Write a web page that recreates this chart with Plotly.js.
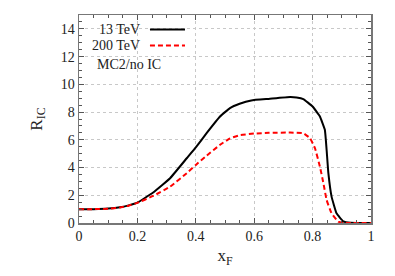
<!DOCTYPE html>
<html><head><meta charset="utf-8">
<script src="https://cdn.plot.ly/plotly-3.0.1.min.js"></script>
<style>body{margin:0;padding:0;background:#fff}#c{width:395px;height:276px}</style>
</head><body><div id="c"></div>
<script>
const x13 = [0, 0.05, 0.1, 0.14, 0.17, 0.2, 0.254, 0.312, 0.369, 0.4, 0.437, 0.483, 0.517, 0.55, 0.59, 0.65, 0.723, 0.745, 0.768, 0.8, 0.825, 0.842, 0.848, 0.854, 0.865, 0.882, 0.905, 0.93, 1.0];
const y13 = [1.0, 1.0, 1.04, 1.13, 1.27, 1.47, 2.2, 3.23, 4.67, 5.45, 6.48, 7.68, 8.29, 8.6, 8.84, 8.95, 9.08, 9.05, 8.94, 8.4, 7.68, 6.72, 5.27, 3.59, 1.9, 0.7, 0.12, 0.02, 0];
const x200 = [0, 0.05, 0.1, 0.14, 0.17, 0.2, 0.254, 0.312, 0.369, 0.4, 0.437, 0.483, 0.517, 0.55, 0.6, 0.65, 0.723, 0.768, 0.791, 0.808, 0.825, 0.837, 0.848, 0.865, 0.888, 0.905, 1.0];
const y200 = [1.0, 1.0, 1.03, 1.12, 1.25, 1.45, 1.95, 2.62, 3.59, 4.19, 4.85, 5.64, 6.1, 6.33, 6.45, 6.5, 6.52, 6.48, 6.12, 5.4, 4.07, 2.87, 1.66, 0.7, 0.1, 0.0, 0];
const names = ["13 TeV", "200 TeV"];
const note = "MC2/no IC";

const F = "'Liberation Serif', 'Times New Roman', serif";
const axBase = {
  showline: true, linecolor: '#777', linewidth: 1.5, mirror: 'allticks',
  ticks: 'inside', ticklen: 5, tickcolor: '#555', tickwidth: 1,
  showgrid: true, gridcolor: '#c8c8c8', griddash: 'dot', gridwidth: 1,
  zeroline: false, tickfont: {family: F, size: 14, color: '#222'}
};
const layout = {
  width: 395, height: 276,
  margin: {l: 79, r: 24, t: 15, b: 53},
  paper_bgcolor: '#fff', plot_bgcolor: '#fff',
  showlegend: false,
  xaxis: Object.assign({}, axBase, {range: [0, 1], dtick: 0.2, tick0: 0,
    minor: {dtick: 0.05, ticks: 'inside', ticklen: 3, tickcolor: '#555', showgrid: false},
    title: {text: 'x<sub>F</sub>', font: {family: F, size: 17, color: '#222'}, standoff: 6}}),
  yaxis: Object.assign({}, axBase, {range: [0, 15], dtick: 2, tick0: 0,
    minor: {dtick: 0.5, ticks: 'inside', ticklen: 3, tickcolor: '#555', showgrid: false},
    title: {text: 'R<sub>IC</sub>', font: {family: F, size: 17, color: '#222'}, standoff: 14}}),
  annotations: [
    {xref: 'paper', yref: 'paper', x: 0.216, y: 0.93, xanchor: 'right', yanchor: 'middle', text: names[0], showarrow: false, font: {family: F, size: 14, color: '#222'}},
    {xref: 'paper', yref: 'paper', x: 0.216, y: 0.853, xanchor: 'right', yanchor: 'middle', text: names[1], showarrow: false, font: {family: F, size: 14, color: '#222'}},
    {xref: 'paper', yref: 'paper', x: 0.055, y: 0.762, xanchor: 'left', yanchor: 'middle', text: note, showarrow: false, font: {family: F, size: 14, color: '#222'}}
  ],
  shapes: [
    {type: 'line', xref: 'paper', yref: 'paper', x0: 0.243, x1: 0.363, y0: 0.93, y1: 0.93, line: {color: '#000', width: 2}},
    {type: 'line', xref: 'paper', yref: 'paper', x0: 0.243, x1: 0.363, y0: 0.853, y1: 0.853, line: {color: '#ff0000', width: 2, dash: '5px,3px'}}
  ]
};
const data = [
  {x: x13, y: y13, name: names[0], mode: 'lines', line: {color: '#000', width: 2, shape: 'spline', smoothing: 0.3}},
  {x: x200, y: y200, name: names[1], mode: 'lines', line: {color: '#ff0000', width: 2, dash: '5px,3px', shape: 'spline', smoothing: 0.3}}
];
Plotly.newPlot('c', data, layout, {displayModeBar: false, staticPlot: true});
</script></body></html>
